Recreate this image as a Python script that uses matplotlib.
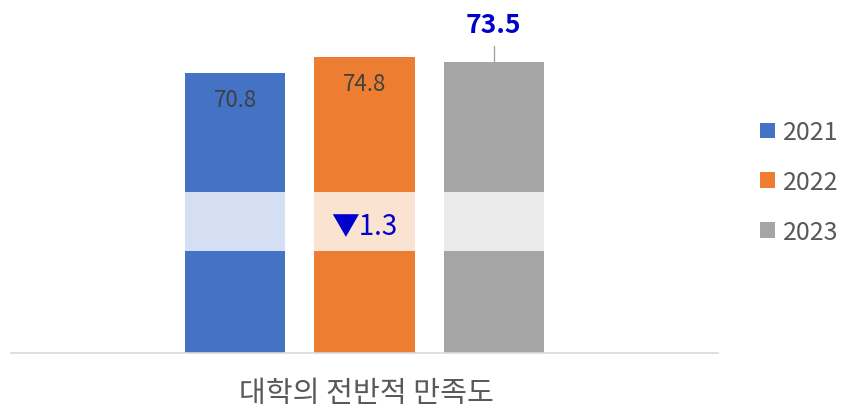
import matplotlib
matplotlib.use('Agg')
import matplotlib.pyplot as plt
from matplotlib.patches import Rectangle

plt.rcParams['font.family'] = ['Noto Sans CJK KR', 'DejaVu Sans']

years = ['2021', '2022', '2023']
scores = [70.8, 74.8, 73.5]
change_label = '▼1.3'
category = '대학의 전반적 만족도'

colors = ['#4472C4', '#ED7D31', '#A5A5A5']
band_colors = ['#D5DFF3', '#FBE3D2', '#EAEAEA']

fig = plt.figure(figsize=(8.42, 4.14), dpi=100)
ax = fig.add_axes([11/842, 60/414, 707/842, 354/414])

xs = [-1, 0, 1]
width = 100 / 129
ax.set_xlim(-2.74, 2.74)
ax.set_ylim(0, 89.4)

bars = ax.bar(xs, scores, width=width, color=colors, label=years, zorder=2)

# axis break band drawn across the bars
for x, bc in zip(xs, band_colors):
    ax.add_patch(Rectangle((x - width/2, 25.8), width, 14.9, facecolor=bc,
                           edgecolor='none', zorder=3))

# value labels
ax.text(xs[0], scores[0] - 6.8, f'{scores[0]}', ha='center', va='center',
        fontsize=16, color='#404040', zorder=4)
ax.text(xs[1], scores[1] - 6.8, f'{scores[1]}', ha='center', va='center',
        fontsize=16, color='#404040', zorder=4)
ax.plot([xs[2], xs[2]], [scores[2], scores[2] + 4.0], color='#A5A5A5', lw=1, zorder=1)
ax.text(xs[2], scores[2] + 9.4, f'{scores[2]}', ha='center', va='center',
        fontsize=19, fontweight='bold', color='#0000CC', zorder=4)
ax.text(xs[1], 32.2, change_label, ha='center', va='center',
        fontsize=20, color='#0000CC', zorder=4)

for s in ['top', 'right', 'left']:
    ax.spines[s].set_visible(False)
ax.spines['bottom'].set_color('#D9D9D9')
ax.spines['bottom'].set_linewidth(1.2)
ax.set_yticks([])
ax.set_xticks([])

fig.text(366/842, 1 - 394/414, category, ha='center', va='center',
         fontsize=21, color='#595959')

leg = fig.legend(handles=bars, labels=years, loc='center left',
                 bbox_to_anchor=(760/842, 1 - 183/414), frameon=False,
                 fontsize=18, labelcolor='#595959', handlelength=0.6,
                 handleheight=0.6, handletextpad=0.3, labelspacing=0.95,
                 borderpad=0, borderaxespad=0)

fig.savefig('out.png', dpi=100)
